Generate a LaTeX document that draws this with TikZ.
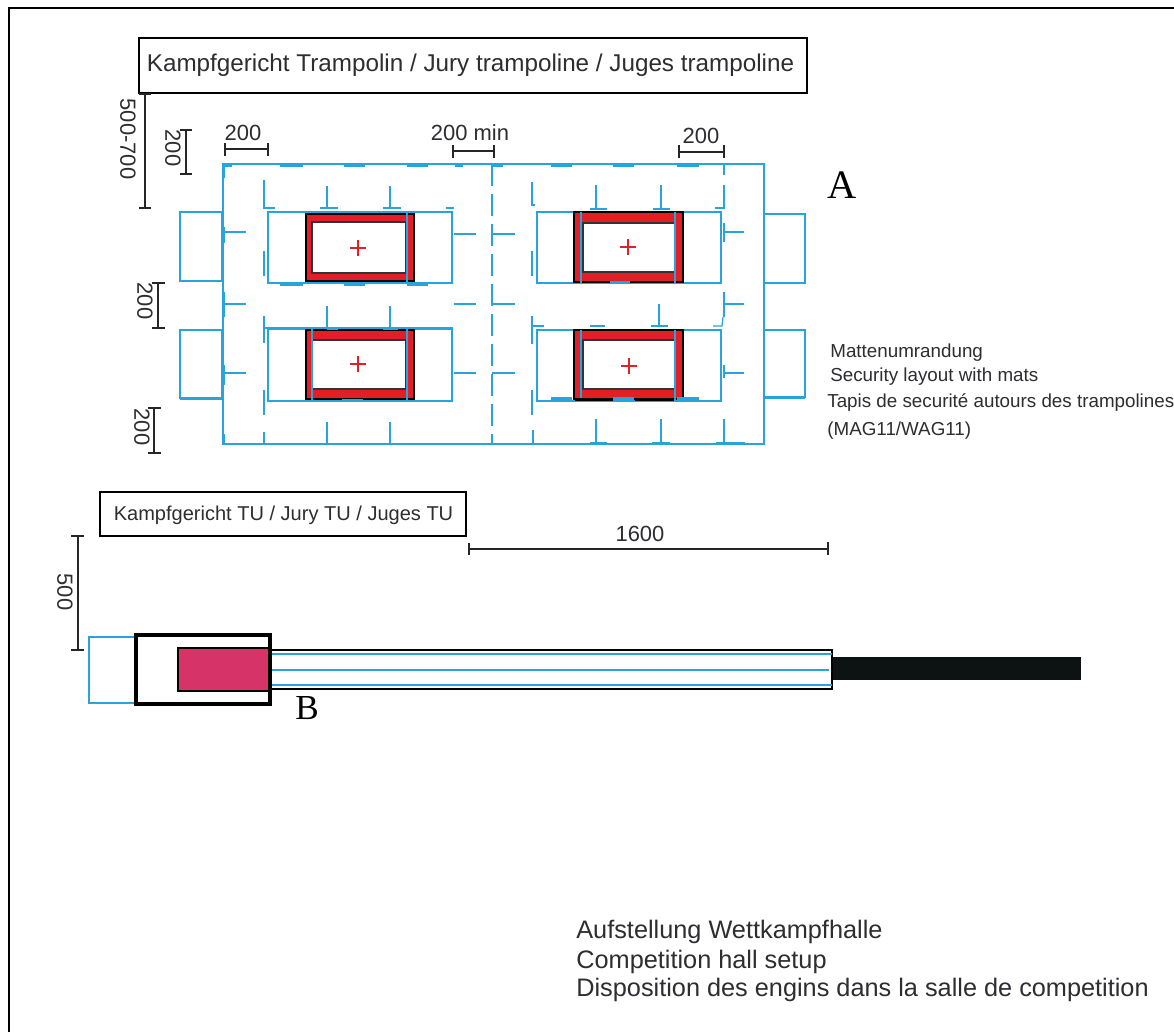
\documentclass[tikz,border=0pt]{standalone}
\usepackage{fontspec}
\setmainfont{Liberation Sans}
\newfontfamily\letterfont{Liberation Serif}
\definecolor{matblue}{RGB}{41,163,220}
\definecolor{bedred}{RGB}{226,30,38}
\definecolor{trackpink}{RGB}{214,51,105}
\definecolor{dimgrey}{RGB}{45,45,50}
\definecolor{landing}{RGB}{13,18,18}
\tikzset{
  mat/.style={draw=matblue,line width=0.7pt},
  matdash/.style={draw=matblue,line width=0.7pt,dash pattern=on 0.44cm off 0.16cm},
  matthick/.style={draw=matblue,line width=1.7pt},
  dimline/.style={draw=black!85,line width=0.7pt},
  label/.style={inner sep=0pt,text=dimgrey},
  jury/.style={draw=black,line width=0.7pt,inner sep=0pt,text=dimgrey},
  bed/.style={fill=bedred,draw=black,line width=0.6pt},
  hole/.style={fill=white,draw=black!80,line width=0.6pt},
  centre/.style={draw=bedred,line width=0.6pt}
}
\begin{document}
\begin{tikzpicture}[x=0.02cm,y=-0.02cm]
\useasboundingbox (0,0) rectangle (1174,1032);
\fill[white] (0,0) rectangle (1174,1032);
\draw[black,line width=1pt] (9,1032) -- (9,8) -- (1174,8);

% juries
\node[jury,minimum width=13.36cm,minimum height=1.1cm] (jurytramp) at (473,65.5) {};
\node[label,font=\fontsize{13.8}{16}\selectfont] (jurytramptext) at (470.5,65) {Kampfgericht Trampolin / Jury trampoline / Juges trampoline};
\node[jury,minimum width=7.32cm,minimum height=0.88cm] (jurytu) at (283,514) {};
\node[label,font=\fontsize{11.4}{13}\selectfont] (jurytutext) at (283.5,515) {Kampfgericht TU / Jury TU / Juges TU};

% hall rectangle and run-ins
\draw[mat] (223,164) rectangle (764,444);
\draw[mat] (180,212) rectangle (222,281);
\draw[mat] (180,330) rectangle (222,398);
\draw[mat] (764,214) rectangle (805,283);
\draw[mat] (764,330) rectangle (805,397);
\draw[matthick] (764,397) -- (805,397);
\draw[matthick] (180,398) -- (222,398);

% mats
\draw[mat] (268,212) rectangle (452,283);
\draw[mat] (268,329) rectangle (452,401);
\draw[mat] (537,212) rectangle (721,283);
\draw[mat] (537,330) rectangle (721,401);

% trampolines
\draw[bed] (306,214) rectangle (414,281);
\draw[hole] (312,222) rectangle (406,273);
\draw[bed] (306,330) rectangle (414,399);
\draw[hole] (312,340) rectangle (406,389);
\draw[bed] (574,212) rectangle (683,282);
\draw[hole] (583,223) rectangle (675,272);
\draw[bed] (574,330) rectangle (683,399);
\draw[hole] (583,340) rectangle (675,389);
\draw[mat] (407,212) -- (407,283);
\draw[mat] (312,329) -- (312,401);
\draw[mat] (407,329) -- (407,401);
\draw[mat] (581,212) -- (581,283);
\draw[mat] (675,212) -- (675,283);
\draw[mat] (581,330) -- (581,401);
\draw[mat] (675,330) -- (675,401);
\draw[centre] (350,248) -- (366,248);
\draw[centre] (358,240) -- (358,256);
\draw[centre] (350,364) -- (366,364);
\draw[centre] (358,356) -- (358,372);
\draw[centre] (620,247) -- (636,247);
\draw[centre] (628,239) -- (628,255);
\draw[centre] (621,366) -- (637,366);
\draw[centre] (629,358) -- (629,374);

% thick pieces on the hall border
\draw[matthick] (223,165) -- (232,165);
\draw[matthick] (280,165) -- (303,165);
\draw[matthick] (344,165) -- (365,165);
\draw[matthick] (407,165) -- (428,165);
\draw[matthick] (455,165) -- (463,165);
\draw[matthick] (492,165) -- (503,165);
\draw[matthick] (551,165) -- (572,165);
\draw[matthick] (613,165) -- (634,165);
\draw[matthick] (677,165) -- (699,165);
\draw[matthick] (224,164) -- (224,178);
\draw[matthick] (224,227) -- (224,243);
\draw[matthick] (224,292) -- (224,317);
\draw[matthick] (224,365) -- (224,385);
\draw[matthick] (224,434) -- (224,444);

% thick pieces on the mats
\draw[matthick] (280,284) -- (303,284);
\draw[matthick] (344,284) -- (365,284);
\draw[matthick] (407,284) -- (428,284);
\draw[matthick] (327,328) -- (338,328);
\draw[matthick] (383,328) -- (398,328);
\draw[matthick] (445,328) -- (453,328);
\draw[matthick] (342,400) -- (363,400);
\draw[matthick] (610,282) -- (630,282);
\draw[line width=1.7pt] (575,399) -- (613,399);
\draw[line width=1.7pt] (635,399) -- (674,399);
\draw[matthick] (551,398) -- (572,398);
\draw[matthick] (613,398) -- (634,398);
\draw[matthick] (677,398) -- (699,398);

% centre line
\draw[matdash] (492,164) -- (492,444);

% left half marks
\draw[mat] (264,180) -- (264,208) -- (275,208);
\draw[mat] (264,251) -- (264,276);
\draw[mat] (264,316) -- (264,343);
\draw[mat] (264,328) -- (453,328);
\draw[mat] (264,390) -- (264,415);
\draw[mat] (264,432) -- (264,444);
\draw[mat] (327,186) -- (327,208);
\draw[mat] (320,208) -- (338,208);
\draw[mat] (390,186) -- (390,208);
\draw[mat] (383,208) -- (401,208);
\draw[mat] (446,208) -- (454,208);
\draw[mat] (327,306) -- (327,328);
\draw[mat] (390,306) -- (390,328);
\draw[mat] (327,422) -- (327,444);
\draw[mat] (390,422) -- (390,444);
\draw[mat] (223,232) -- (246,232);
\draw[mat] (223,304) -- (246,304);
\draw[mat] (223,373) -- (246,373);
\draw[mat] (454,234) -- (476,234);
\draw[mat] (454,304) -- (476,304);
\draw[mat] (454,373) -- (476,373);
\draw[mat] (492,234) -- (515,234);
\draw[mat] (492,304) -- (515,304);
\draw[mat] (492,373) -- (515,373);

% right half marks
\draw[mat] (532,182) -- (532,205) -- (535,205);
\draw[mat] (532,251) -- (532,276);
\draw[mat] (532,316) -- (532,344);
\draw[mat] (532,326) -- (544,326);
\draw[mat] (532,390) -- (532,415);
\draw[mat] (533,430) -- (533,444) -- (544,444);
\draw[mat] (596,185) -- (596,209);
\draw[mat] (590,209) -- (607,209);
\draw[mat] (661,185) -- (661,209);
\draw[mat] (653,209) -- (670,209);
\draw[mat] (590,326) -- (605,326);
\draw[mat] (659,304) -- (659,326);
\draw[mat] (651,326) -- (668,326);
\draw[mat] (596,419) -- (596,444);
\draw[matthick] (590,443) -- (607,443);
\draw[mat] (661,419) -- (661,444);
\draw[matthick] (652,443) -- (670,443);
\draw[mat] (724,164) -- (724,175);
\draw[mat] (724,185) -- (724,208) -- (715,208);
\draw[mat] (724,223) -- (724,242);
\draw[mat] (724,232) -- (744,232);
\draw[mat] (724,292) -- (724,317);
\draw[mat] (724,304) -- (744,304);
\draw[mat] (723,317) -- (722,326) -- (713,326);
\draw[mat] (724,365) -- (724,378);
\draw[mat] (724,373) -- (744,373);
\draw[mat] (724,419) -- (724,443);
\draw[matthick] (716,443) -- (745,443);

% dimensions
\draw[dimline] (145,94) -- (145,208);
\draw[dimline] (139,94) -- (151,94);
\draw[dimline] (139,208) -- (151,208);
\node[label,rotate=-90,font=\fontsize{12.5}{15}\selectfont] (dimjury) at (128,139) {500-700};
\draw[dimline] (186,130) -- (186,174);
\draw[dimline] (180,130) -- (192,130);
\draw[dimline] (180,174) -- (192,174);
\node[label,rotate=-90,font=\fontsize{12.5}{15}\selectfont] (dimtop) at (173,148) {200};
\draw[dimline] (158,283) -- (158,328);
\draw[dimline] (152,283) -- (165,283);
\draw[dimline] (152,328) -- (165,328);
\node[label,rotate=-90,font=\fontsize{12.5}{15}\selectfont] (dimmid) at (145,301) {200};
\draw[dimline] (154,408) -- (154,453);
\draw[dimline] (148,408) -- (161,408);
\draw[dimline] (148,453) -- (161,453);
\node[label,rotate=-90,font=\fontsize{12.5}{15}\selectfont] (dimlow) at (142,427) {200};
\draw[dimline] (225,149) -- (268,149);
\draw[dimline] (225,143) -- (225,156);
\draw[dimline] (268,143) -- (268,156);
\node[label,font=\fontsize{12.5}{15}\selectfont] (dimleft) at (243,133) {200};
\draw[dimline] (453,151) -- (494,151);
\draw[dimline] (453,145) -- (453,158);
\draw[dimline] (494,145) -- (494,158);
\node[label,font=\fontsize{12.5}{15}\selectfont] (dimgap) at (470,133) {200 min};
\draw[dimline] (679,152) -- (724,152);
\draw[dimline] (679,145) -- (679,158);
\draw[dimline] (724,145) -- (724,158);
\node[label,font=\fontsize{12.5}{15}\selectfont] (dimright) at (701,136) {200};
\draw[dimline] (469,549) -- (828,549);
\draw[dimline] (469,543) -- (469,555);
\draw[dimline] (828,542) -- (828,555);
\node[label,font=\fontsize{12.5}{15}\selectfont] (dimtrack) at (640,534) {1600};
\draw[dimline] (78,536) -- (78,650);
\draw[dimline] (71,536) -- (84,536);
\draw[dimline] (71,650) -- (84,650);
\node[label,rotate=-90,font=\fontsize{12.5}{15}\selectfont] (dimtu) at (65,592) {500};

% tumbling track
\draw[mat] (89,637) rectangle (135,703);
\draw[draw=black,line width=0.6pt] (270,650) rectangle (832,689);
\draw[mat] (270,654) -- (832,654);
\draw[mat] (270,670) -- (829,670);
\draw[mat] (270,685) -- (832,685);
\draw[fill=trackpink,draw=black,line width=0.8pt] (178,648) rectangle (269,691);
\draw[draw=black,line width=1.8pt] (136,635) rectangle (270,704);
\fill[landing] (833,657) rectangle (1081,680);

% letters and notes
\node[inner sep=0pt,font=\fontsize{23}{26}\selectfont\letterfont] (lettera) at (842,185) {A};
\node[inner sep=0pt,font=\fontsize{20}{24}\selectfont\letterfont] (letterb) at (307,708) {B};
\node[label,anchor=west,font=\fontsize{10.7}{12}\selectfont] (noteone) at (830,353) {Mattenumrandung};
\node[label,anchor=west,font=\fontsize{10.7}{12}\selectfont] (notetwo) at (830,377) {Security layout with mats};
\node[label,anchor=west,font=\fontsize{10.7}{12}\selectfont] (notethree) at (827,403) {Tapis de securité autours des trampolines};
\node[label,anchor=west,font=\fontsize{10.7}{12}\selectfont] (notefour) at (827,431) {(MAG11/WAG11)};
\node[label,anchor=west,font=\fontsize{14.4}{17}\selectfont] (titleone) at (576,932) {Aufstellung Wettkampfhalle};
\node[label,anchor=west,font=\fontsize{14.4}{17}\selectfont] (titletwo) at (576,962) {Competition hall setup};
\node[label,anchor=west,font=\fontsize{14.4}{17}\selectfont] (titlethree) at (576,990) {Disposition des engins dans la salle de competition};
\end{tikzpicture}
\end{document}
